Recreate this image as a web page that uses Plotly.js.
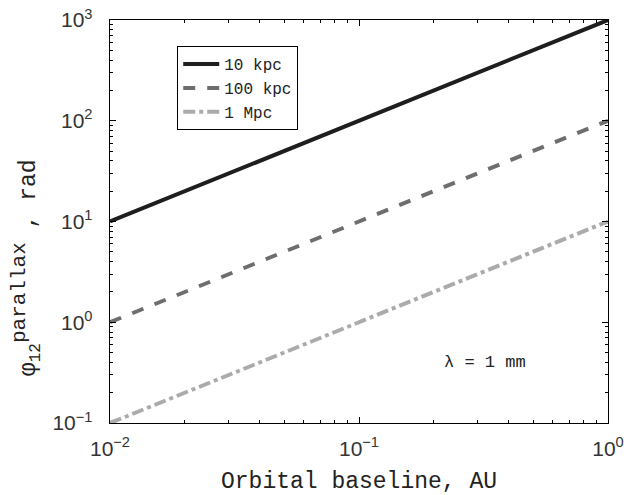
<!DOCTYPE html>
<html>
<head>
<meta charset="utf-8">
<script src="https://cdn.plot.ly/plotly-3.0.1.min.js"></script>
<style>html,body{margin:0;padding:0;background:#fff;}#chart{width:641px;height:495px;}</style>
</head>
<body>
<div id="chart"></div>
<script>
var baseline = [0.01, 1];
var phi10kpc = [10, 1000];
var phi100kpc = [1, 100];
var phi1Mpc = [0.1, 10];
var seriesNames = ["10 kpc", "100 kpc", "1 Mpc"];
var xTickVals = [0.01, 0.1, 1];
var xTickText = ["10<sup>−2</sup>", "10<sup>−1</sup>", "10<sup>0</sup>"];
var yTickVals = [0.1, 1, 10, 100, 1000];
var yTickText = ["10<sup>−1</sup>", "10<sup>0</sup>", "10<sup>1</sup>", "10<sup>2</sup>", "10<sup>3</sup>"];
var xTitle = "Orbital baseline, AU";
var yTitle = "φ<sub>12</sub><sup><span style=\"font-size:21px\">parallax</span></sup> , rad";
var noteText = "λ = 1 mm";

function minorVals(lo, hi) {
  var v = [];
  for (var e = lo; e < hi; e++) for (var m = 2; m <= 9; m++) v.push(m * Math.pow(10, e));
  return v;
}

var mono = "Liberation Mono, Courier New, monospace";
var sans = "Liberation Sans, Arial, sans-serif";

var traces = [
  {x: baseline, y: phi10kpc, name: seriesNames[0], mode: "lines", line: {color: "#1e1e1e", width: 4, dash: "solid"}},
  {x: baseline, y: phi100kpc, name: seriesNames[1], mode: "lines", line: {color: "#6e6e6e", width: 4, dash: "dash"}},
  {x: baseline, y: phi1Mpc, name: seriesNames[2], mode: "lines", line: {color: "#ababab", width: 4, dash: "dashdot"}}
];

var axisCommon = {
  type: "log", showgrid: false, zeroline: false, showline: true, linecolor: "#000", linewidth: 1.3,
  mirror: "ticks", ticks: "inside", ticklen: 6, tickcolor: "#000", tickmode: "array",
  tickfont: {family: sans, size: 21, color: "#333"}
};

var layout = {
  width: 641, height: 495,
  margin: {l: 110, r: 33, t: 20, b: 72},
  paper_bgcolor: "#fff", plot_bgcolor: "#fff",
  showlegend: true,
  legend: {x: 0.135, y: 0.935, xanchor: "left", yanchor: "top", bgcolor: "#fff", bordercolor: "#000", borderwidth: 1,
           font: {family: mono, size: 16, color: "#222"}, tracegroupgap: 0, itemwidth: 36},
  xaxis: Object.assign({}, axisCommon, {
    range: [-2, 0], tickvals: xTickVals, ticktext: xTickText, ticklabelstandoff: 6,
    minor: {ticks: "inside", ticklen: 3, tickcolor: "#000", tickmode: "array", tickvals: minorVals(-2, 0)},
    title: {text: xTitle, font: {family: mono, size: 23, color: "#222"}, standoff: 16}
  }),
  yaxis: Object.assign({}, axisCommon, {
    range: [-1, 3], tickvals: yTickVals, ticktext: yTickText, ticklabelstandoff: 12,
    minor: {ticks: "inside", ticklen: 3, tickcolor: "#000", tickmode: "array", tickvals: minorVals(-1, 3)}
  }),
  annotations: [
    {
      xref: "paper", yref: "paper", x: 0.753, y: 0.151, xanchor: "center", yanchor: "middle", showarrow: false,
      text: noteText, font: {family: mono, size: 17, color: "#222"}
    },
    {
      xref: "paper", yref: "paper", x: -0.168, y: 0.385, xanchor: "center", yanchor: "middle", showarrow: false,
      textangle: -90, text: yTitle, font: {family: mono, size: 23, color: "#222"}
    }
  ]
};

Plotly.newPlot("chart", traces, layout, {displayModeBar: false, staticPlot: true});
</script>
</body>
</html>
